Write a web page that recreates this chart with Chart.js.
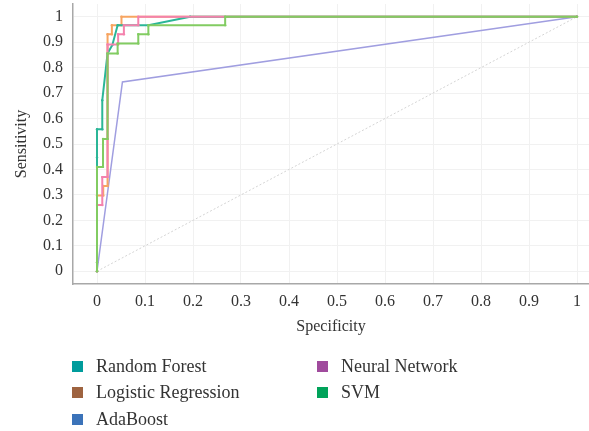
<!DOCTYPE html>
<html><head><meta charset="utf-8">
<script src="https://cdn.jsdelivr.net/npm/chart.js@4"></script>
<style>
html,body{margin:0;padding:0;background:#fff;overflow:hidden;width:589px;height:431px;}
#wrap{position:relative;width:593px;height:340px;}
#legend{position:absolute;left:0;top:0;width:589px;height:431px;font-family:"Liberation Serif",serif;font-size:18px;color:#333;pointer-events:none;}
.item{position:absolute;display:flex;align-items:center;height:20px;line-height:20px;white-space:nowrap;}
.sw{width:11px;height:11px;margin-right:13px;flex:none;}
</style></head><body>
<div id="wrap"><canvas id="c"></canvas></div>
<div id="legend"></div>
<script>
// ---- data ----
const xTicks = [0,0.1,0.2,0.3,0.4,0.5,0.6,0.7,0.8,0.9,1];
const yTicks = [0,0.1,0.2,0.3,0.4,0.5,0.6,0.7,0.8,0.9,1];
const xTickLabels = ['0','0.1','0.2','0.3','0.4','0.5','0.6','0.7','0.8','0.9','1'];
const yTickLabels = ['0','0.1','0.2','0.3','0.4','0.5','0.6','0.7','0.8','0.9','1'];

const seriesNames = ['Random Forest','Logistic Regression','AdaBoost','Neural Network','SVM'];

const rfX = [0,0,0,0.011,0.011,0.022,0.032,0.043,0.107,0.194,1];
const rfY = [0,0.447,0.558,0.558,0.672,0.856,0.889,0.967,0.967,1,1];

const lrX = [0,0,0.013,0.013,0.022,0.022,0.031,0.031,0.051,0.051,1];
const lrY = [0,0.298,0.298,0.335,0.335,0.931,0.931,0.967,0.967,1,1];

const adaX = [0,0.053,1];
const adaY = [0,0.744,1];

const nnX = [0,0,0.011,0.011,0.022,0.022,0.044,0.044,0.056,0.056,0.086,0.086,1];
const nnY = [0,0.26,0.26,0.37,0.37,0.891,0.891,0.931,0.931,0.967,0.967,1,1];

const svmX = [0,0,0,0.0125,0.0125,0.022,0.022,0.043,0.043,0.086,0.086,0.107,0.107,0.267,0.267,1];
const svmY = [0,0.035,0.41,0.41,0.52,0.52,0.856,0.856,0.895,0.895,0.931,0.931,0.967,0.967,1,1];

const refX = [0,1];
const refY = [0,1];

// ---- styling ----
const lineColors = ['#2bb697','#f7a561','#a09ee0','#f482ad','#82cc62'];
const legendColors = ['#009c9c','#9e6340','#3b73b9','#a04b9d','#00a35a'];
const drawOrder = [2,3,4,1,0];

function pts(xs, ys){ return xs.map((x,i)=>({x:x,y:ys[i]})); }
const allX = [rfX,lrX,adaX,nnX,svmX];
const allY = [rfY,lrY,adaY,nnY,svmY];

const datasets = seriesNames.map((n,i)=>({
  label:n,
  data:pts(allX[i],allY[i]),
  borderColor:lineColors[i],
  backgroundColor:lineColors[i],
  borderWidth: i===2 ? 1.5 : 2,
  pointRadius: i===2 ? 0 : 1.2,
  pointBorderWidth:0,
  tension:0,
  order:drawOrder[i]
}));
datasets.push({
  label:'ref',
  data:pts(refX,refY),
  borderColor:'#d4d4d4',
  borderWidth:1,
  borderDash:[2,2],
  pointRadius:0,
  order:9
});

const font = {family:'"Liberation Serif", serif', size:16};
const gridColor = '#f1f1f1';

new Chart(document.getElementById('c'),{
  type:'line',
  data:{datasets:datasets},
  options:{
    responsive:true,
    maintainAspectRatio:false,
    animation:false,
    layout:{padding:{top:4,right:0,left:0,bottom:0}},
    plugins:{legend:{display:false},tooltip:{enabled:false}},
    scales:{
      x:{
        type:'linear',min:-0.05,max:1.025,
        afterBuildTicks:s=>{s.ticks = xTicks.map(v=>({value:v}));},
        afterFit:s=>{s.height = 56; s.paddingLeft=0; s.paddingRight=0;},
        ticks:{font:font,color:'#333',padding:8,maxRotation:0,autoSkip:false,
          callback:(v)=>{const i=xTicks.indexOf(v);return i>=0?xTickLabels[i]:'';}},
        grid:{color:gridColor,drawTicks:false},
        border:{color:'#a8a8a8',width:1.5},
        title:{display:true,text:'Specificity',font:font,color:'#333',padding:{top:0,bottom:4}}
      },
      y:{
        type:'linear',min:-0.05,max:1.05,
        afterBuildTicks:s=>{s.ticks = yTicks.map(v=>({value:v}));},
        afterFit:s=>{s.width = 73; s.paddingTop=0; s.paddingBottom=0;},
        ticks:{font:font,color:'#333',padding:10,autoSkip:false,
          callback:(v)=>{const i=yTicks.indexOf(v);return i>=0?yTickLabels[i]:'';}},
        grid:{color:gridColor,drawTicks:false},
        border:{color:'#a8a8a8',width:1.5},
        title:{display:true,text:'Sensitivity',font:font,color:'#333',padding:{top:12,bottom:0}}
      }
    }
  }
});

// ---- HTML legend (two columns, column-major as in the reference) ----
const legendPos = [[72,366],[72,392],[72,419],[317,366],[317,392]];
const lg = document.getElementById('legend');
seriesNames.forEach((n,i)=>{
  const d = document.createElement('div');
  d.className='item';
  d.style.left = legendPos[i][0]+'px';
  d.style.top = (legendPos[i][1]-10)+'px';
  const sw = document.createElement('span');
  sw.className='sw'; sw.style.background = legendColors[i];
  const t = document.createElement('span');
  t.textContent = n;
  d.appendChild(sw); d.appendChild(t);
  lg.appendChild(d);
});
</script>
</body></html>
